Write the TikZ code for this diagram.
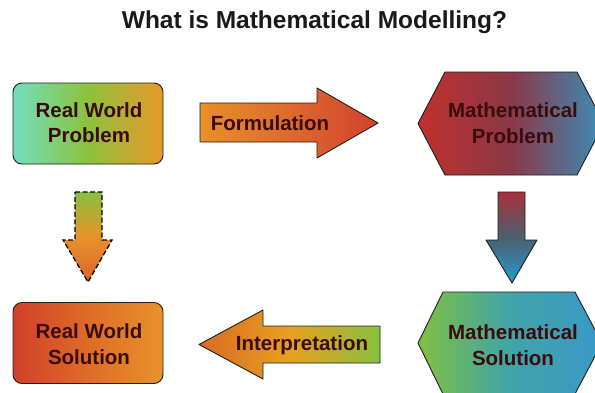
\documentclass[tikz,border=0pt]{standalone}
\usepackage{fontspec}
\setmainfont{Liberation Sans}
\definecolor{txt}{HTML}{3A0C0C}
\definecolor{edge}{HTML}{1E1E1E}
\begin{document}
\begin{tikzpicture}[x=1pt,y=-1pt,
  lbl/.style={font=\bfseries\fontsize{20.5}{25.5}\selectfont, text=txt, align=center, inner sep=0pt},
  shp/.style={draw=edge, line width=0.9pt, line join=round},
  box/.style={shp, rounded corners=9pt, minimum width=150pt, minimum height=81pt, inner sep=0pt}]
\useasboundingbox (0,0) rectangle (595,392);
\clip (0,0) rectangle (595,392);

% title
\node[font=\bfseries\fontsize{24.5}{29}\selectfont, text=black!90] (title) at (314.5,22) {What is Mathematical Modelling?};

% real world problem
\node[box, left color={rgb,255:red,114;green,222;blue,192}, right color={rgb,255:red,232;green,152;blue,42}, middle color={rgb,255:red,140;green,194;blue,60}] (rwpbox) at (88,123.5) {};
\node[lbl] (rwp) at (89,122.5) {Real World\\Problem};

% formulation arrow
\shade[left color={rgb,255:red,232;green,143;blue,42}, right color={rgb,255:red,208;green,66;blue,46}, middle color={rgb,255:red,222;green,106;blue,44}]
  (200,103) -- (317,103) -- (317,88) -- (378,123) -- (317,158) -- (317,142) -- (200,142) -- cycle;
\draw[shp] (200,103) -- (317,103) -- (317,88) -- (378,123) -- (317,158) -- (317,142) -- (200,142) -- cycle;
\node[lbl] (form) at (270,123) {Formulation};

% mathematical problem hexagon
\shade[left color={rgb,255:red,192;green,48;blue,44}, right color={rgb,255:red,58;green,142;blue,184}, middle color={rgb,255:red,138;green,56;blue,72}]
  (418,123.5) -- (445,72) -- (577,72) -- (604,123.5) -- (577,175) -- (445,175) -- cycle;
\draw[shp] (418,123.5) -- (445,72) -- (577,72) -- (604,123.5) -- (577,175) -- (445,175) -- cycle;
\node[lbl] (mp) at (513,123) {Mathematical\\Problem};

% left down arrow (dashed)
\shade[top color={rgb,255:red,134;green,192;blue,64}, bottom color={rgb,255:red,216;green,100;blue,42}, middle color={rgb,255:red,232;green,146;blue,42}]
  (75,192) -- (102,192) -- (102,240) -- (112,240) -- (88,282) -- (63,240) -- (75,240) -- cycle;
\draw[draw=black, line width=1.3pt, dash pattern=on 5pt off 2.5pt, line join=miter] (75,192) -- (102,192) -- (102,240) -- (112,240) -- (88,282) -- (63,240) -- (75,240) -- cycle;

% right down arrow
\shade[top color={rgb,255:red,168;green,48;blue,58}, bottom color={rgb,255:red,42;green,154;blue,208}, middle color={rgb,255:red,74;green,96;blue,112}]
  (498,192) -- (525,192) -- (525,240) -- (537,240) -- (512,283) -- (486,240) -- (498,240) -- cycle;
\draw[shp] (498,192) -- (525,192) -- (525,240) -- (537,240) -- (512,283) -- (486,240) -- (498,240) -- cycle;

% real world solution
\node[box, left color={rgb,255:red,208;green,64;blue,42}, right color={rgb,255:red,232;green,146;blue,42}, middle color={rgb,255:red,222;green,108;blue,38}] (rwsbox) at (88,343) {};
\node[lbl] (rws) at (89,344) {Real World\\Solution};

% interpretation arrow
\shade[left color={rgb,255:red,216;green,106;blue,36}, right color={rgb,255:red,136;green,192;blue,64}, middle color={rgb,255:red,232;green,160;blue,32}]
  (380,326) -- (263,326) -- (263,310) -- (199,344.5) -- (263,379) -- (263,363) -- (380,363) -- cycle;
\draw[shp] (380,326) -- (263,326) -- (263,310) -- (199,344.5) -- (263,379) -- (263,363) -- (380,363) -- cycle;
\node[lbl] (interp) at (302,345) {Interpretation};

% mathematical solution hexagon
\shade[left color={rgb,255:red,128;green,192;blue,64}, right color={rgb,255:red,58;green,152;blue,200}, middle color={rgb,255:red,64;green,164;blue,168}]
  (418,343) -- (443,292) -- (575,292) -- (602,343) -- (575,394) -- (443,394) -- cycle;
\draw[shp] (418,343) -- (443,292) -- (575,292) -- (602,343) -- (575,394) -- (443,394) -- cycle;
\node[lbl] (ms) at (513,345) {Mathematical\\Solution};
\end{tikzpicture}
\end{document}
